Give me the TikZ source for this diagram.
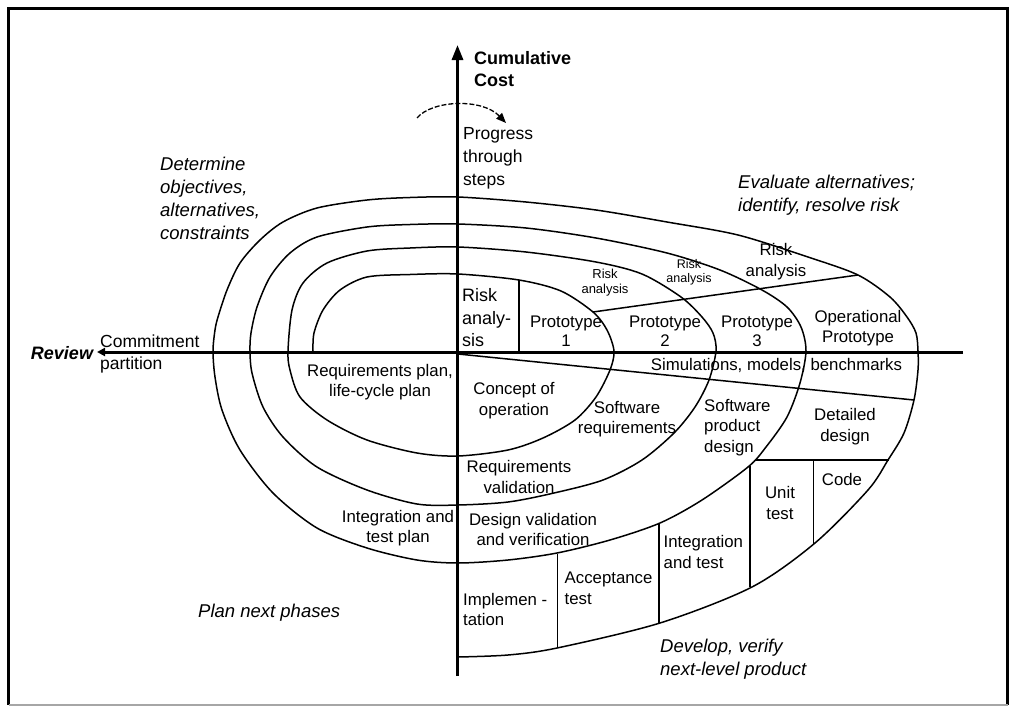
\documentclass[tikz,border=0pt]{standalone}
\usepackage{fontspec}
\setmainfont{Liberation Sans}
\usetikzlibrary{arrows.meta}
\begin{document}
\begin{tikzpicture}[x=1pt,y=-1pt,
  spiral/.style={line width=1.5pt, line join=round},
  divider/.style={line width=1.5pt},
  axis/.style={line width=3pt},
  lbl/.style={font=\fontsize{16.8}{20.5}\selectfont, align=center, inner sep=0pt},
  lbll/.style={lbl, align=left, anchor=west},
  small/.style={font=\fontsize{13}{15}\selectfont, align=center, inner sep=0pt},
  phase/.style={font=\fontsize{18.5}{23}\selectfont\itshape, align=left, inner sep=0pt, anchor=west},
]
\useasboundingbox (0,0) rectangle (1009,707);
% frame
\draw[line width=2.5pt] (1007.5,704.5) -- (1007.5,8.5) -- (8.5,8.5) -- (8.5,704.5);
\draw[line width=1.5pt, black!35] (8.5,705) -- (1007.5,705);

% axes
\coordinate (ytop) at (457.5,45);
\coordinate (ybot) at (457.5,676);
\coordinate (xleft) at (97,352);
\coordinate (xright) at (963,352);
\draw[axis, -{Triangle[length=15pt,width=11pt]}] (ybot) -- (ytop);
\draw[axis, -{Triangle[length=8pt,width=8pt]}] (xright) -- (xleft);

% the spiral, from the centre outwards (clockwise)
\draw[spiral] plot[smooth, tension=0.5] coordinates {
  (313,351) (314,333) (323,310) (340,290) (367,277) (410,274.5) (458,274)
  (519,280) (561,291) (593,312) (607,330) (614,351)
  (610,370) (596,397) (575,420) (543,438) (508,450) (458,456)
  (417,453) (367,440) (327,420) (300,397) (290,370) (288,351)
  (292,310) (303,283) (327,263) (367,251) (410,248) (458,247)
  (526,252) (596,262) (642,274) (681,297) (702,317) (713,333) (716,351)
  (709,380) (695,407) (674,433) (642,460) (603,480) (554,493) (508,502) (458,505)
  (417,504) (367,490) (317,467) (283,437) (263,407) (252,373) (250,351)
  (251,333) (257,307) (270,277) (290,253) (317,237) (367,227) (410,224.5) (458,224)
  (526,228) (596,238) (667,253) (720,270) (762,290) (787,307) (801,327) (806,351)
  (800,383) (787,417) (766,447) (748,467) (702,500) (660,523) (610,540) (557,553) (508,560) (458,563)
  (417,560) (367,548) (317,528) (273,493) (240,450) (222,410) (215,377) (213,351)
  (215,330) (218,317) (227,290) (240,263) (260,240) (283,222) (317,208) (367,200) (410,197.5) (458,197)
  (526,202) (596,210) (667,222) (738,235) (808,257) (858,275) (890,297) (907,317) (916,333) (918,351)
  (918,370) (914,400) (904,433) (888,460) (868,490) (815,543) (752,587) (660,623) (557,648) (508,655) (458,657)
};

% sector dividers
\coordinate (ra1) at (519,280);   \coordinate (ra2) at (519,351);
\coordinate (sl1) at (593,312);   \coordinate (sl2) at (858,275);
\coordinate (sm1) at (458,354);   \coordinate (sm2) at (914,400);
\coordinate (dd1) at (755,460);   \coordinate (dd2) at (889,460);
\coordinate (cd1) at (813.5,460); \coordinate (cd2) at (813.5,545);
\coordinate (ut1) at (750,466);   \coordinate (ut2) at (750,587);
\coordinate (it1) at (659,523);   \coordinate (it2) at (659,624);
\coordinate (at1) at (557.5,554); \coordinate (at2) at (557.5,648);
\draw[divider] (ra1) -- (ra2);
\draw[divider] (sl1) -- (sl2);
\draw[divider] (sm1) -- (sm2);
\draw[divider] (dd1) -- (dd2);
\draw[divider] (cd1) -- (cd2);
\draw[divider] (ut1) -- (ut2);
\draw[divider] (it1) -- (it2);
\draw[divider] (at1) -- (at2);

% progress arrow
\coordinate (pg1) at (417,118);
\coordinate (pg2) at (506,123);
\draw[line width=1.3pt, dash pattern=on 5pt off 2pt, -{Triangle[length=10pt,width=8pt]}]
  (pg1) .. controls (432,100) and (482,98) .. (pg2);

% axis and quadrant labels
\node[inner sep=0pt, anchor=west, align=left, font=\fontsize{18}{22}\selectfont\bfseries] (cost) at (474,69) {Cumulative\\Cost};
\node[lbll, font=\fontsize{17.5}{23}\selectfont] (prog) at (463,158) {Progress\\through\\steps};
\node[phase] (det) at (160,198) {Determine\\objectives,\\alternatives,\\constraints};
\node[phase] (eval) at (738,195.5) {Evaluate alternatives;\\identify, resolve risk};
\node[phase] (plan) at (198,613) {Plan next phases};
\node[phase] (dev) at (660,659) {Develop, verify\\next-level product};
\node[inner sep=0pt, font=\fontsize{18}{22}\selectfont\bfseries\itshape] (rev) at (62,353) {Review};
\node[lbll, font=\fontsize{17.5}{22}\selectfont] (commit) at (100,354) {Commitment\\partition};

% upper right quadrant
\node[lbll, font=\fontsize{18}{22.5}\selectfont] (ra) at (462,318) {Risk\\analy-\\sis};
\node[lbl, font=\fontsize{16.8}{19}\selectfont] (p1) at (566,331) {Prototype\\1};
\node[lbl, font=\fontsize{16.8}{19}\selectfont] (p2) at (665,331) {Prototype\\2};
\node[lbl, font=\fontsize{16.8}{19}\selectfont] (p3) at (757,331) {Prototype\\3};
\node[lbl, font=\fontsize{16.8}{20}\selectfont] (op) at (858,328) {Operational\\Prototype};
\node[small] (r1) at (605,283) {Risk\\analysis};
\node[small, font=\fontsize{12.5}{14}\selectfont] (r2) at (689,272) {Risk\\analysis};
\node[lbl] (r3) at (776,261.5) {Risk\\analysis};

% lower right quadrant
\node[lbl] (sim) at (776.5,365) {Simulations, models, benchmarks};
\node[lbl] (conc) at (514,400.5) {Concept of\\operation};
\node[lbl] (swr) at (627,419) {Software\\requirements};
\node[lbll] (spd) at (704,427.5) {Software\\product\\design};
\node[lbl] (dd) at (845,426.5) {Detailed\\design};
\node[lbl] (rv) at (519,477) {Requirements\\validation};
\node[lbl] (dv) at (533,529.5) {Design validation\\and verification};
\node[lbl] (ut) at (780,503) {Unit\\test};
\node[lbl] (code) at (842,479) {Code};
\node[lbll] (it) at (663.5,552) {Integration\\and test};
\node[lbll] (at) at (564.5,588.5) {Acceptance\\test};
\node[lbll] (impl) at (463,609.5) {Implemen -\\tation};

% lower left quadrant
\node[lbl] (rp) at (380,382) {Requirements plan,\\life-cycle plan};
\node[lbl] (itp) at (398,528) {Integration and\\test plan};
\end{tikzpicture}
\end{document}
